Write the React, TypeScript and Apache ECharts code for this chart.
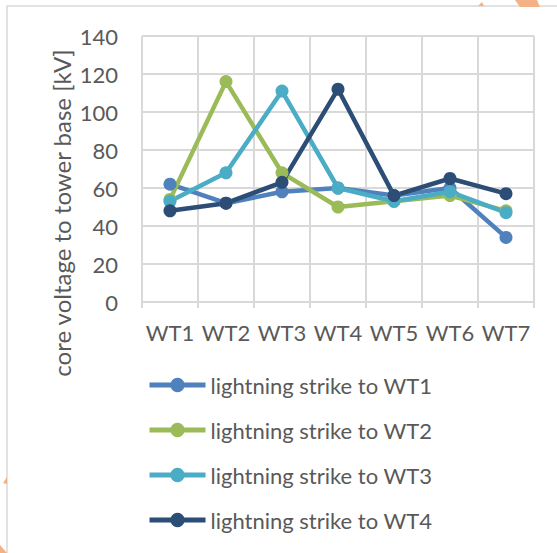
import React, { useEffect, useRef } from "react";
import * as echarts from "echarts";

const categories = ["WT1", "WT2", "WT3", "WT4", "WT5", "WT6", "WT7"];
const seriesNames = [
  "lightning strike to WT1",
  "lightning strike to WT2",
  "lightning strike to WT3",
  "lightning strike to WT4",
];
const strikeWT1 = [62, 52, 58, 60, 56, 60, 34];
const strikeWT2 = [54, 116, 68, 50, 53, 56, 48];
const strikeWT3 = [53, 68, 111, 60, 53, 58, 47];
const strikeWT4 = [48, 52, 63, 112, 56, 65, 57];
const yTicks = { min: 0, max: 140, interval: 20 };
const yTitle = "core voltage to tower base [kV]";

const colors = ["#4f81bd", "#9bbb59", "#4bacc6", "#2c4d75"];
const FONT = "Lato";
const FS = 22;

export default function App() {
  const ref = useRef<HTMLDivElement>(null);
  useEffect(() => {
    if (!ref.current) return;
    const chart = echarts.init(ref.current, undefined, { renderer: "svg" });
    const data = [strikeWT1, strikeWT2, strikeWT3, strikeWT4];
    chart.setOption({
      animation: false,
      backgroundColor: "#ffffff",
      textStyle: { fontFamily: FONT },
      grid: { left: 142, right: 23, top: 36, bottom: 251 },
      xAxis: {
        type: "category",
        data: categories,
        boundaryGap: true,
        axisLine: { show: true, lineStyle: { color: "#d9d9d9", width: 2 } },
        axisTick: { show: true, interval: 0, length: 6, lineStyle: { color: "#d9d9d9", width: 2 } },
        splitLine: { show: true, interval: 0, lineStyle: { color: "#d9d9d9", width: 2 } },
        axisLabel: { color: "#595959", fontSize: FS, fontFamily: FONT, margin: 19, interval: 0 },
      },
      yAxis: {
        type: "value",
        min: yTicks.min,
        max: yTicks.max,
        interval: yTicks.interval,
        axisLine: { show: false },
        axisTick: { show: false },
        splitLine: { show: true, lineStyle: { color: "#d9d9d9", width: 2 } },
        axisLabel: { color: "#595959", fontSize: FS, fontFamily: FONT, margin: 24 },
      },
      legend: {
        orient: "vertical",
        left: 147,
        top: 374,
        padding: 0,
        itemWidth: 56,
        itemHeight: 18,
        itemGap: 23,
        lineStyle: { width: 5 },
        textStyle: { color: "#595959", fontSize: FS, fontFamily: FONT, lineHeight: 22 },
        data: seriesNames,
      },
      series: seriesNames.map((name, i) => ({
        name,
        type: "line",
        data: data[i],
        symbol: "circle",
        symbolSize: 13,
        color: colors[i],
        lineStyle: { width: 4.5, color: colors[i] },
        itemStyle: { color: colors[i] },
      })),
      graphic: [
        {
          type: "rect",
          shape: { x: 7, y: 6, width: 600, height: 600 },
          style: { fill: "none", stroke: "#d9d9d9", lineWidth: 1.5 },
          z: -1,
        },
        {
          type: "text",
          x: 61,
          y: 213,
          rotation: Math.PI / 2,
          style: {
            text: yTitle,
            fill: "#595959",
            fontSize: 24,
            fontFamily: FONT,
            align: "center",
            verticalAlign: "middle",
          },
        },
        {
          type: "polygon",
          shape: { points: [[515, 0], [537, 0], [540, 7], [520, 7]] },
          style: { fill: "#f4b183" },
        },
        {
          type: "polygon",
          shape: { points: [[478, 6], [482, 2], [484, 6]] },
          style: { fill: "#f4b183" },
        },
        {
          type: "polygon",
          shape: { points: [[0, 545], [7, 553], [0, 553]] },
          style: { fill: "#f4b183" },
        },
        {
          type: "polygon",
          shape: { points: [[3, 483], [7, 477], [7, 484]] },
          style: { fill: "#f4b183" },
        },
      ],
    });
    return () => chart.dispose();
  }, []);
  return (
    <div
      ref={ref}
      style={{ position: "fixed", left: 0, top: 0, width: 557, height: 553 }}
    />
  );
}
